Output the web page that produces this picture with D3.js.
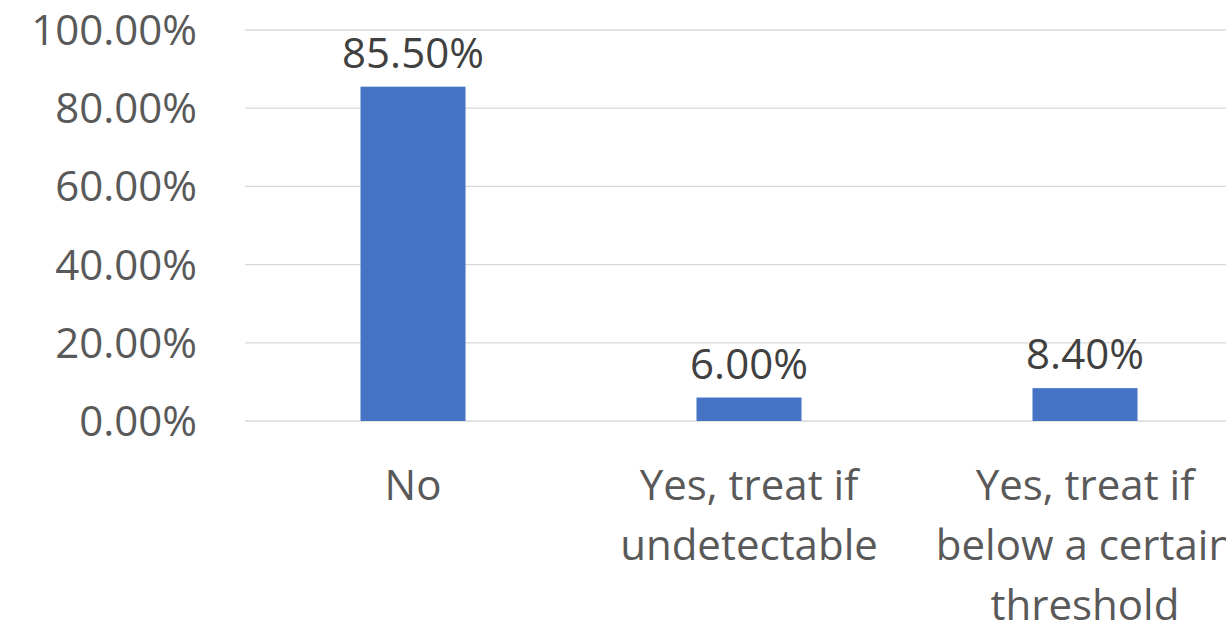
<!DOCTYPE html>
<html><head><meta charset="utf-8">
<script src="https://cdn.jsdelivr.net/npm/d3@7"></script>
<style>body{margin:0;background:#fff;overflow:hidden}svg{display:block}text{font-family:"Open Sans",Lato,sans-serif}</style>
</head><body><svg id="c" width="1226" height="625"></svg>
<script>
const categories = [["No"], ["Yes, treat if", "undetectable"], ["Yes, treat if", "below a certain", "threshold"]];
const values = [85.5, 6.0, 8.4];
const yTicks = [0, 20, 40, 60, 80, 100];

const svg = d3.select("#c");
const x = d3.scaleBand().domain(d3.range(categories.length)).range([245, 1253]).paddingInner(0.6875).paddingOuter(0.34375);
const y = d3.scaleLinear().domain([0, 100]).range([421, 30]);

svg.append("g").selectAll("line").data(yTicks).join("line")
  .attr("x1", 245).attr("x2", 1226).attr("y1", d => y(d)).attr("y2", d => y(d))
  .attr("stroke", "#d9d9d9").attr("stroke-width", 1.3);

svg.append("g").selectAll("text").data(yTicks).join("text")
  .attr("x", 197).attr("y", d => y(d) + 15).attr("text-anchor", "end")
  .attr("font-size", 42).attr("fill", "#595959")
  .text(d => d.toFixed(2) + "%");

svg.append("g").selectAll("rect").data(values).join("rect")
  .attr("x", (d, i) => x(i)).attr("width", x.bandwidth())
  .attr("y", d => y(d)).attr("height", d => y(0) - y(d))
  .attr("fill", "#4472c4");

svg.append("g").selectAll("text").data(values).join("text")
  .attr("x", (d, i) => x(i) + x.bandwidth() / 2).attr("y", d => y(d) - 19)
  .attr("text-anchor", "middle").attr("font-size", 42).attr("fill", "#404040")
  .text(d => d.toFixed(2) + "%");

const cat = svg.append("g").selectAll("text").data(categories).join("text")
  .attr("text-anchor", "middle").attr("font-size", 42).attr("fill", "#595959");
cat.each(function(lines, i) {
  d3.select(this).selectAll("tspan").data(lines).join("tspan")
    .attr("x", x(i) + x.bandwidth() / 2).attr("y", (d, j) => 500 + j * 60).text(d => d);
});
</script></body></html>
